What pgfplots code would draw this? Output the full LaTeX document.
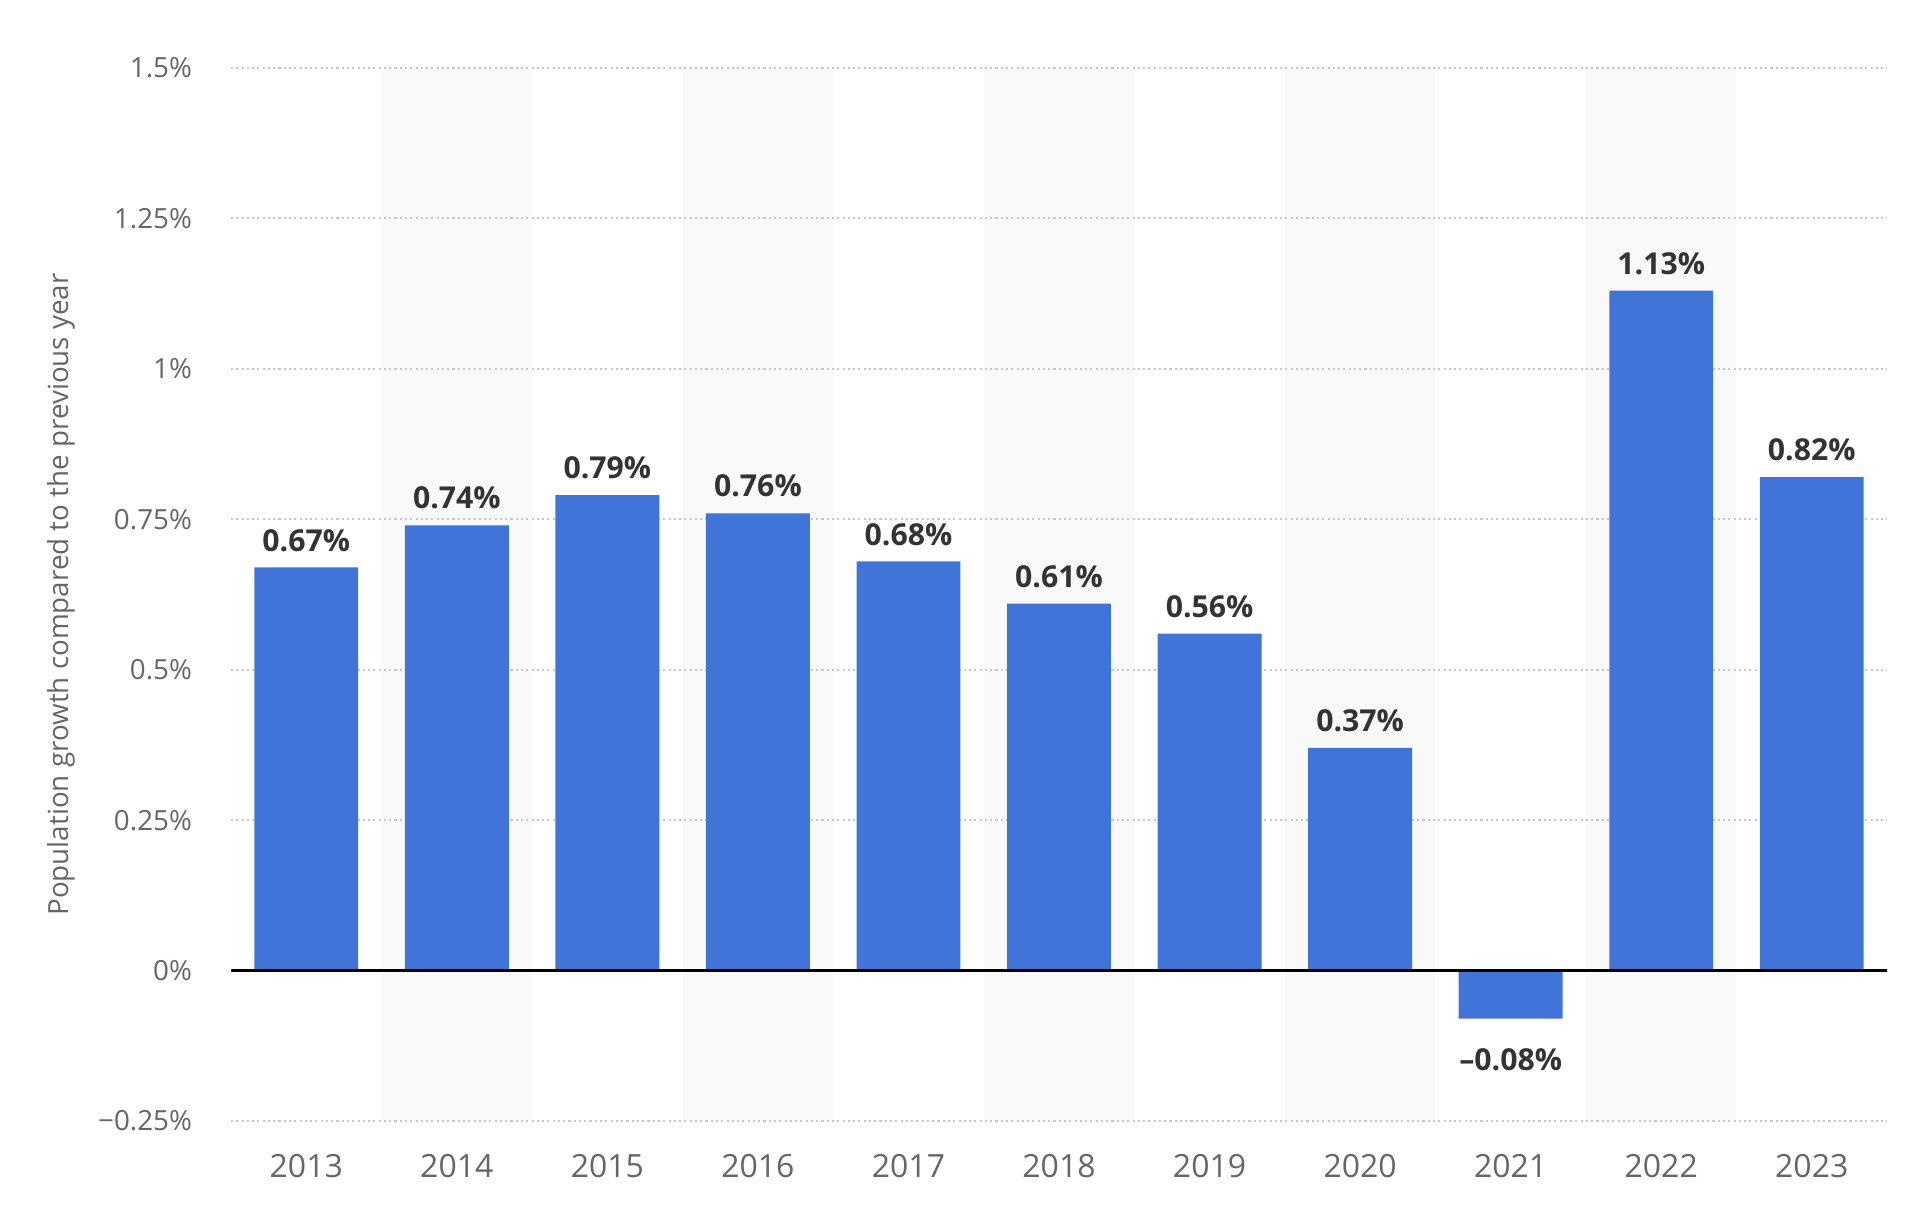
\documentclass[border=0pt]{standalone}
\usepackage{fontspec}
\setmainfont{Open Sans}
\usepackage{pgfplots}
\pgfplotsset{compat=1.18}
\usepackage{pgfplotstable}
\definecolor{barblue}{RGB}{64,116,216}
\definecolor{bandgray}{RGB}{249,249,249}
\definecolor{ticktext}{RGB}{102,102,102}
\definecolor{valtext}{RGB}{51,51,51}
\definecolor{gridgray}{RGB}{200,200,200}

\pgfplotstableread[col sep=semicolon]{
x;y;lab
0;0.67;0.67\%
1;0.74;0.74\%
2;0.79;0.79\%
3;0.76;0.76\%
4;0.68;0.68\%
5;0.61;0.61\%
6;0.56;0.56\%
7;0.37;0.37\%
8;-0.08;–0.08\%
9;1.13;1.13\%
10;0.82;0.82\%
}\growth

\begin{document}
\begin{tikzpicture}
\begin{axis}[
    set layers,
    width=165.6mm, height=105.3mm,
    scale only axis,
    xmin=-0.5, xmax=10.5,
    ymin=-0.25, ymax=1.5,
    xtick={0,...,10},
    xticklabels={2013,2014,2015,2016,2017,2018,2019,2020,2021,2022,2023},
    ytick={-0.25,0,0.25,0.5,0.75,1,1.25,1.5},
    yticklabels={−0.25\%,0\%,0.25\%,0.5\%,0.75\%,1\%,1.25\%,1.5\%},
    axis line style={draw=none},
    major tick length=0pt,
    ymajorgrids,
    grid style={gridgray, line width=0.6pt, dash pattern=on 0.6pt off 0.9pt},
    tick label style={text=ticktext},
    xticklabel style={font=\fontsize{9.1}{11}\selectfont, yshift=-6pt},
    yticklabel style={font=\fontsize{7.9}{10}\selectfont, xshift=-7.6pt},
    ylabel={Population growth compared to the previous year},
    every axis y label/.style={at={(axis description cs:0,0.5)}, rotate=90,
        anchor=center, yshift=17mm, font=\fontsize{7.9}{10}\selectfont, text=ticktext},
    clip=false,
]
% alternating background bands
\addplot[ybar, bar width=1, bar shift=0pt, fill=bandgray, draw=none, on layer=axis background]
  coordinates {(1,1.5) (3,1.5) (5,1.5) (7,1.5) (9,1.5)};
\addplot[ybar, bar width=1, bar shift=0pt, fill=bandgray, draw=none, on layer=axis background]
  coordinates {(1,-0.25) (3,-0.25) (5,-0.25) (7,-0.25) (9,-0.25)};
% data
\addplot[ybar, bar width=0.69, bar shift=0pt, fill=barblue, draw=none,
    nodes near coords, point meta=explicit symbolic,
    visualization depends on={y \as \yval},
    every node near coord/.append code={%
      \ifdim\yval pt<0pt \pgfkeysalso{anchor=north, yshift=-5pt}%
      \else \pgfkeysalso{anchor=south, yshift=1pt}\fi},
    nodes near coords style={font=\bfseries\fontsize{8.6}{11}\selectfont, text=valtext}]
  table[x=x, y=y, meta=lab] {\growth};
\draw[black, line width=0.9pt] (axis cs:-0.5,0) -- (axis cs:10.5,0);
\end{axis}
\pgfresetboundingbox
\path (-23.1mm,-10.1mm) rectangle (167.5mm,112.1mm);
\end{tikzpicture}
\end{document}
